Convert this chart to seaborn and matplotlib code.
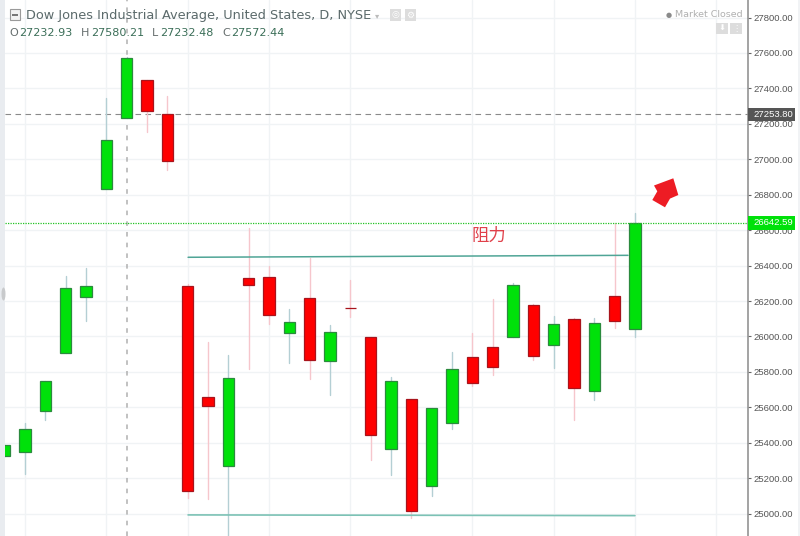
import matplotlib
matplotlib.use("Agg")
import matplotlib.pyplot as plt
import numpy as np
import pandas as pd
import seaborn as sns
from matplotlib.patches import Polygon, Rectangle, Ellipse

opens = [25327, 25346, 25581, 25909, 26225, 26834, 27233, 27446, 27254, 26285, 25660, 25271, 26328, 26334, 26018, 26217,
         25863, 26160, 25997, 25365, 25646, 25155, 25513, 25883, 25941, 25995, 26176, 25952, 26097, 25692, 26227, 26044]
closes = [25386, 25478, 25747, 26272, 26285, 27110, 27572, 27272, 26989, 25130, 25606, 25766, 26292, 26120, 26082, 25869,
          26025, 26158, 25446, 25747, 25015, 25598, 25815, 25736, 25828, 26289, 25888, 26069, 25708, 26078, 26087, 26643]
highs = [25386, 25513, 25747, 26341, 26386, 27344, 27580, 27446, 27357, 26295, 25969, 25897, 26611, 26399, 26157, 26441,
         26063, 26319, 25997, 25771, 25646, 25598, 25912, 26021, 26210, 26300, 26182, 26116, 26106, 26103, 26642, 26695]
lows = [25327, 25226, 25529, 25909, 26086, 26834, 27232, 27156, 26939, 25087, 25081, 24850, 25818, 26072, 25852, 25762,
        25672, 26110, 25303, 25217, 24977, 25100, 25480, 25721, 25783, 25995, 25869, 25822, 25529, 25643, 26048, 25999]
y_ticks = [25000, 25200, 25400, 25600, 25800, 26000, 26200, 26400, 26600, 26800, 27000, 27200, 27400, 27600, 27800]
grid_days = [1, 5, 9, 13, 17, 23, 27, 31, 35]
resistance_x, resistance_y = [9.02, 30.66], [26447, 26458]
support_x, support_y = [9.02, 31.0], [24993, 24989]
crosshair_day, crosshair_price, last_price = 6, 27253.80, 26642.59

W, H = 800, 536
UP, DOWN = "#00e10a", "#ff0000"
UP_EDGE, DOWN_EDGE = "#2b8a3e", "#a8141c"
UP_WICK, DOWN_WICK = "#b4cfd4", "#f6c6cc"

sns.set_theme(style="white", font="Liberation Sans")
plt.rcParams["font.family"] = ["Liberation Sans", "DejaVu Sans"]
fig = plt.figure(figsize=(W / 100, H / 100), dpi=100, facecolor="white")
ax = fig.add_axes([5 / W, 0, 742.5 / W, 1])
ax.set_xlim((5 - 4.7) / 20.33, (747.5 - 4.7) / 20.33)
ax.set_ylim(24874, 27899)

df = pd.DataFrame({"day": np.arange(len(opens)), "open": opens, "close": closes, "high": highs, "low": lows})
df["dir"] = np.where(df["close"] >= df["open"], "up", "down")
wicks = df.melt(id_vars=["day", "dir"], value_vars=["high", "low"], value_name="price")
sns.lineplot(data=wicks, x="day", y="price", units="day", estimator=None, hue="dir",
             palette={"up": UP_WICK, "down": DOWN_WICK}, lw=1.0, legend=False, ax=ax, zorder=3, sort=False)

for name, fc, ec in [("up", UP, UP_EDGE), ("down", DOWN, DOWN_EDGE)]:
    s = df[df["dir"] == name]
    lo = s[["open", "close"]].min(axis=1)
    hi = s[["open", "close"]].max(axis=1)
    ax.bar(s["day"], hi - lo, bottom=lo, width=0.55, color=fc, edgecolor=ec, linewidth=0.9, zorder=4)

ax.set_axisbelow(True)
ax.set_xticks(grid_days)
ax.set_yticks(y_ticks)
ax.grid(True, color="#f0f3f5", lw=1.0)
ax.yaxis.tick_right()
ax.set_yticklabels([f"{v:.2f}" for v in y_ticks], fontsize=6.8, color="#555555")
ax.tick_params(axis="y", length=2.3, width=0.8, color="#666666", pad=2)
ax.tick_params(axis="x", length=0, labelbottom=False)
ax.set_xlabel(""); ax.set_ylabel("")
for sp in ["top", "left", "bottom"]:
    ax.spines[sp].set_visible(False)
ax.spines["right"].set_color("#8a8a8a")
ax.spines["right"].set_linewidth(1.1)

ax.plot(resistance_x, resistance_y, color="#4fa596", lw=1.1, zorder=5)
ax.plot(support_x, support_y, color="#7cc2b5", lw=1.2, zorder=5)
ax.axvline(crosshair_day + 0.03, color="#b0b0b0", lw=1.1, ls=(0, (3, 4)), zorder=2)
ax.axhline(crosshair_price, color="#8a8a8a", lw=0.8, ls=(0, (5, 4)), zorder=2)
ax.axhline(last_price, color="#22c322", lw=0.9, ls=(0, (1, 1)), zorder=6)

px = lambda x, y: (x / W, 1 - y / H)
def ftext(x, y, s, **kw):
    fx, fy = px(x, y)
    return fig.text(fx, fy, s, va=kw.pop("va", "center"), **kw)

fig.add_artist(Rectangle((0, 0), 5 / W, 1, transform=fig.transFigure, fc="#e9ecf0", ec="none"))
fig.add_artist(Rectangle((798 / W, 0), 2 / W, 1, transform=fig.transFigure, fc="#f1f3f5", ec="none"))
fig.add_artist(Ellipse(px(3.5, 294), 4 / W, 13 / H, transform=fig.transFigure, fc="#c8cacc", ec="none", zorder=8))
ftext(471, 235.5, "阻力", fontsize=12.5, color="#e0404a", family=["Noto Sans CJK SC", "DejaVu Sans"], zorder=8)

arrow_pts = [(673.3, 178.3), (678.3, 195), (670, 198.6), (665, 207.3), (652.3, 200), (657.3, 191.3), (654, 185.5)]
fig.add_artist(Polygon([px(*p) for p in arrow_pts], closed=True, transform=fig.transFigure, fc="#ed1c24", ec="none", zorder=8))

for y, s, c in [(114.4, "27253.80", "#555555"), (222.8, "26642.59", "#00e10a")]:
    fig.add_artist(Rectangle(px(747.5, y + 6.7), 47.8 / W, 13.4 / H, transform=fig.transFigure, fc=c, ec="none", zorder=8))
    ftext(753.3, y, s, fontsize=6.8, color="white", zorder=9)

TITLE = "#5b6a6b"
fig.add_artist(Rectangle(px(9.5, 20), 10.5 / W, 10.5 / H, transform=fig.transFigure, fc="#f2f2f2", ec="#9a9a9a", lw=0.8, zorder=8))
fig.add_artist(Rectangle(px(12, 15.5), 5.5 / W, 1 / H, transform=fig.transFigure, fc="#777777", ec="none", zorder=9))
ftext(26, 15.5, "Dow Jones Industrial Average, United States, D, NYSE", fontsize=9.25, color=TITLE, family="DejaVu Sans", zorder=9)
ftext(375, 15.5, "▾", fontsize=6, color="#bbbbbb", family="DejaVu Sans", zorder=9)
for x in [390, 405]:
    fig.add_artist(Rectangle(px(x, 20.5), 11 / W, 11 / H, transform=fig.transFigure, fc="#dddddd", ec="none", zorder=8))
    ftext(x + 5.5, 15, "⚙" if x > 400 else "◎", fontsize=6.5, color="white", ha="center", family="DejaVu Sans", zorder=9)

VAL = "#3b6e58"
for lx, label, vx, val in [(9, "O", 19.5, "27232.93"), (81, "H", 91, "27580.21"), (152, "L", 160, "27232.48"), (222, "C", 231, "27572.44")]:
    ftext(lx, 33, label, fontsize=8, color="#666e6e", family="DejaVu Sans", zorder=9)
    ftext(vx, 33, val, fontsize=8, color=VAL, family="DejaVu Sans", zorder=9)

ftext(666, 14.5, "●", fontsize=5, color="#8a8a8a", family="DejaVu Sans", zorder=9)
ftext(675, 14.5, "Market Closed", fontsize=6.8, color="#b0b0b0", family="DejaVu Sans", zorder=9)
for x, g in [(716, "⬇"), (730, "⋮")]:
    fig.add_artist(Rectangle(px(x, 34), 12 / W, 11 / H, transform=fig.transFigure, fc="#dddddd", ec="none", zorder=8))
    ftext(x + 6, 28.5, g, fontsize=6, color="white", ha="center", family="DejaVu Sans", zorder=9)

fig.savefig("out.png", dpi=100)
